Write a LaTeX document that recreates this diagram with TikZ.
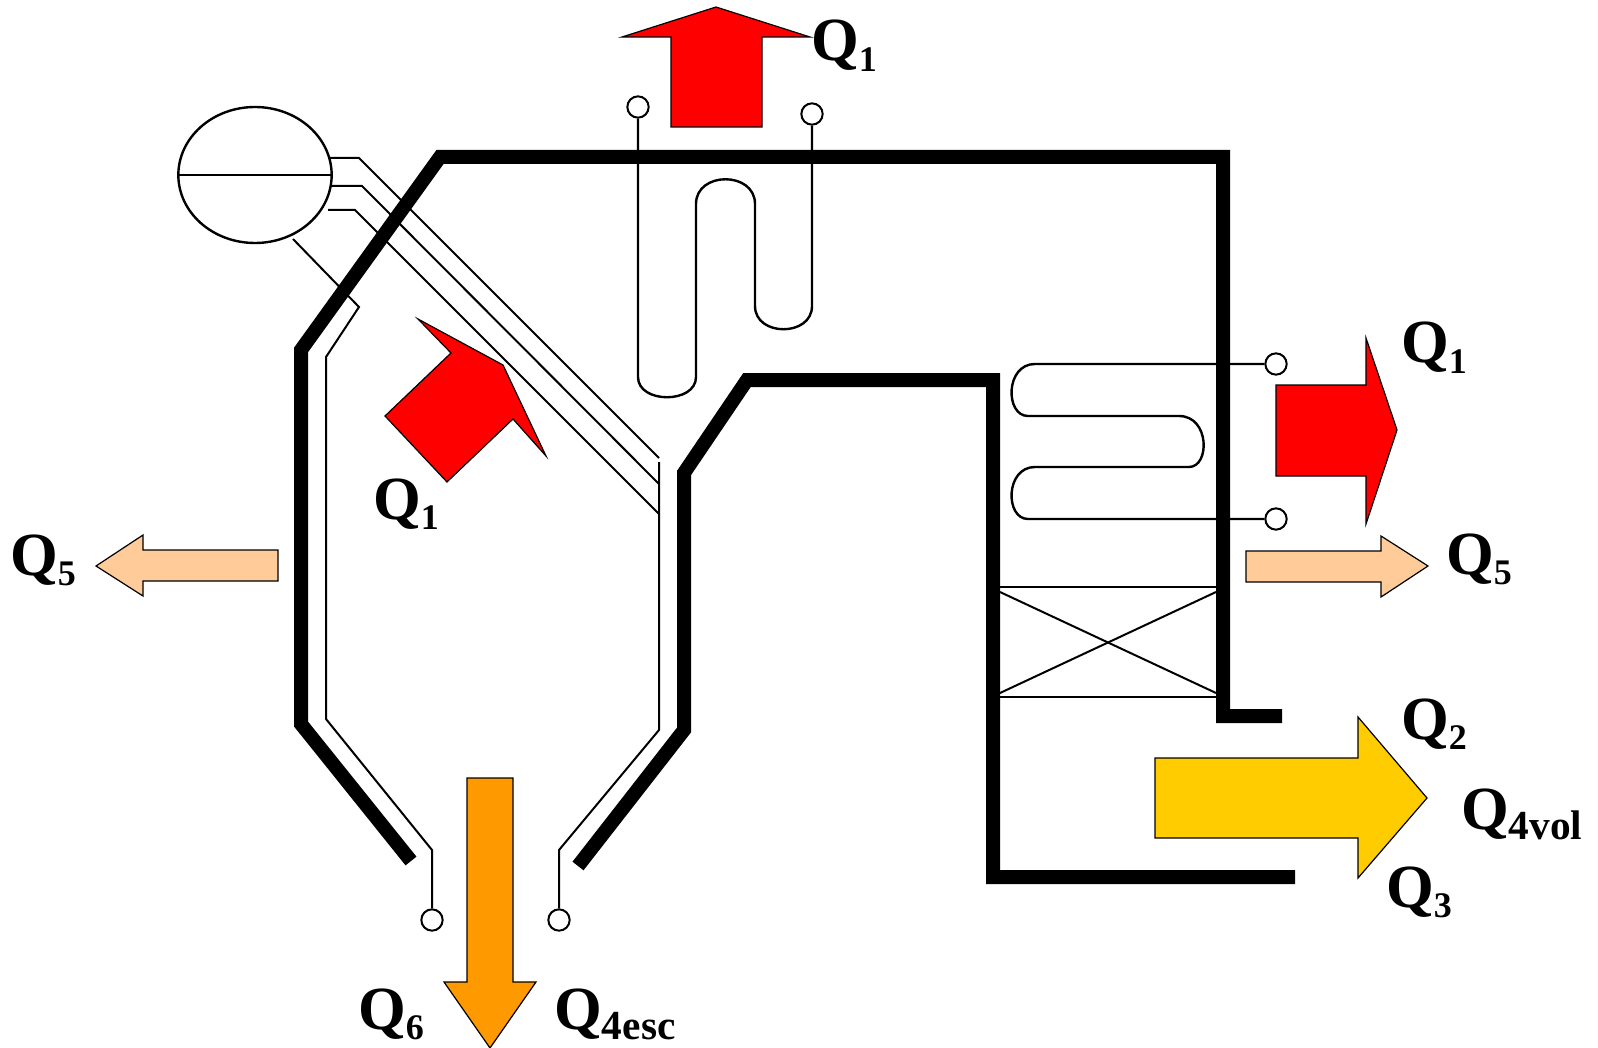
\documentclass[tikz,border=0pt]{standalone}
\usepackage{fontspec}
\setmainfont{Liberation Serif}
\usetikzlibrary{shapes.geometric}
\definecolor{heatred}{HTML}{FF0000}
\definecolor{heatpeach}{HTML}{FFCC99}
\definecolor{heatyellow}{HTML}{FFCC00}
\definecolor{heatorange}{HTML}{FF9900}
\newcommand{\heatlabel}[2][27]{\fontsize{46}{46}\bfseries\selectfont Q\raisebox{-0.17em}{\fontsize{#1}{#1}\bfseries\selectfont #2}}
\tikzset{
	wall/.style={line width=10.5pt, line join=miter, line cap=butt},
	pipe/.style={line width=1.8pt},
	thinpipe/.style={line width=1.5pt},
	terminal/.style={circle, draw, line width=1.5pt, fill=white, minimum size=16pt, inner sep=0pt},
	heat/.style={draw, line width=0.9pt, line join=miter},
	heatname/.style={anchor=base west, inner sep=0pt}
}
\begin{document}
\begin{tikzpicture}[x=0.75pt, y=-0.75pt]
	\useasboundingbox (0, 0) rectangle (1598, 1048);

	% Define the terminals and the drum
	\node[ellipse, draw, pipe, minimum width=115pt, minimum height=102pt, inner sep=0pt] (drum) at (255, 175) {};
	\node[terminal] (t1) at (638, 107) {};
	\node[terminal] (t2) at (812, 114) {};
	\node[terminal] (t3) at (1276, 364) {};
	\node[terminal] (t4) at (1276, 519) {};
	\node[terminal] (t5) at (432, 920) {};
	\node[terminal] (t6) at (559, 920) {};

	% Draw the furnace walls
	\draw[wall] (411, 861) -- (301, 724) -- (301, 350) -- (440, 157) -- (1223, 157) -- (1223, 716) -- (1282, 716);
	\draw[wall] (578, 866) -- (684, 730) -- (684, 473) -- (747, 380) -- (993, 380) -- (993, 877) -- (1295, 877);

	% Draw the pipes from the drum
	\draw[pipe] (drum.west) -- (drum.east);
	\draw[thinpipe] (330, 158) -- (359, 158) -- (659, 458);
	\draw[thinpipe] (330, 186) -- (362, 186) -- (659, 484);
	\draw[thinpipe] (328, 210) -- (355, 210) -- (659, 514);
	\draw[thinpipe] (293, 239) -- (359, 307) -- (326, 357) -- (326, 719) -- (432, 850) -- (t5);
	\draw[thinpipe] (659, 462) -- (659, 730) -- (559, 850) -- (t6);

	% Draw the two coils
	\draw[pipe] (t1) -- (638, 377) .. controls (638, 404) and (696, 404) .. (696, 377) -- (696, 204)
		.. controls (696, 171) and (755, 171) .. (755, 204) -- (755, 306)
		.. controls (755, 337) and (812, 337) .. (812, 306) -- (t2);
	\draw[pipe] (t3) -- (1035, 364) .. controls (1005, 364) and (1005, 416) .. (1028, 416) -- (1179, 416)
		.. controls (1210, 416) and (1210, 467) .. (1189, 467) -- (1035, 467)
		.. controls (1005, 467) and (1005, 519) .. (1028, 519) -- (t4);

	% Draw the box with the cross
	\draw[pipe] (993, 587) -- (1223, 587);
	\draw[pipe] (993, 697) -- (1223, 697);
	\draw[thinpipe] (1000, 592) -- (1216, 693);
	\draw[thinpipe] (1216, 592) -- (1000, 693);

	% Draw the heat arrows
	\draw[heat, fill=heatred] (622, 37) -- (716, 7) -- (810, 37) -- (762, 37) -- (762, 127) -- (671, 127) -- (671, 37) -- cycle;
	\draw[heat, fill=heatred] (418, 319) -- (503, 365) -- (546, 456) -- (513, 419) -- (447, 482) -- (385, 416) -- (451, 353) -- cycle;
	\draw[heat, fill=heatred] (1276, 385) -- (1366, 385) -- (1366, 338) -- (1397, 430) -- (1366, 524) -- (1366, 476) -- (1276, 476) -- cycle;
	\draw[heat, fill=heatpeach] (1246, 551) -- (1381, 551) -- (1381, 536) -- (1428, 566) -- (1381, 597) -- (1381, 582) -- (1246, 582) -- cycle;
	\draw[heat, fill=heatpeach] (278, 550) -- (143, 550) -- (143, 535) -- (96, 566) -- (143, 596) -- (143, 581) -- (278, 581) -- cycle;
	\draw[heat, fill=heatyellow] (1155, 758) -- (1358, 758) -- (1358, 717) -- (1427, 798) -- (1358, 878) -- (1358, 838) -- (1155, 838) -- cycle;
	\draw[heat, fill=heatorange] (467, 778) -- (513, 778) -- (513, 982) -- (536, 982) -- (490, 1048) -- (444, 982) -- (467, 982) -- cycle;

	% Labels
	\node[heatname] (qtop) at (811, 61) {\heatlabel{1}};
	\node[heatname] (qfire) at (373, 519) {\heatlabel{1}};
	\node[heatname] (qleft) at (10, 575) {\heatlabel{5}};
	\node[heatname] (qcoil) at (1401, 363) {\heatlabel{1}};
	\node[heatname] (qright) at (1446, 574) {\heatlabel{5}};
	\node[heatname] (qflue) at (1401, 739) {\heatlabel{2}};
	\node[heatname] (qvol) at (1461, 829) {\heatlabel[31]{4vol}};
	\node[heatname] (qgas) at (1386, 907) {\heatlabel{3}};
	\node[heatname] (qash) at (358, 1029) {\heatlabel{6}};
	\node[heatname] (qesc) at (554, 1029) {\heatlabel[31]{4esc}};
\end{tikzpicture}
\end{document}
